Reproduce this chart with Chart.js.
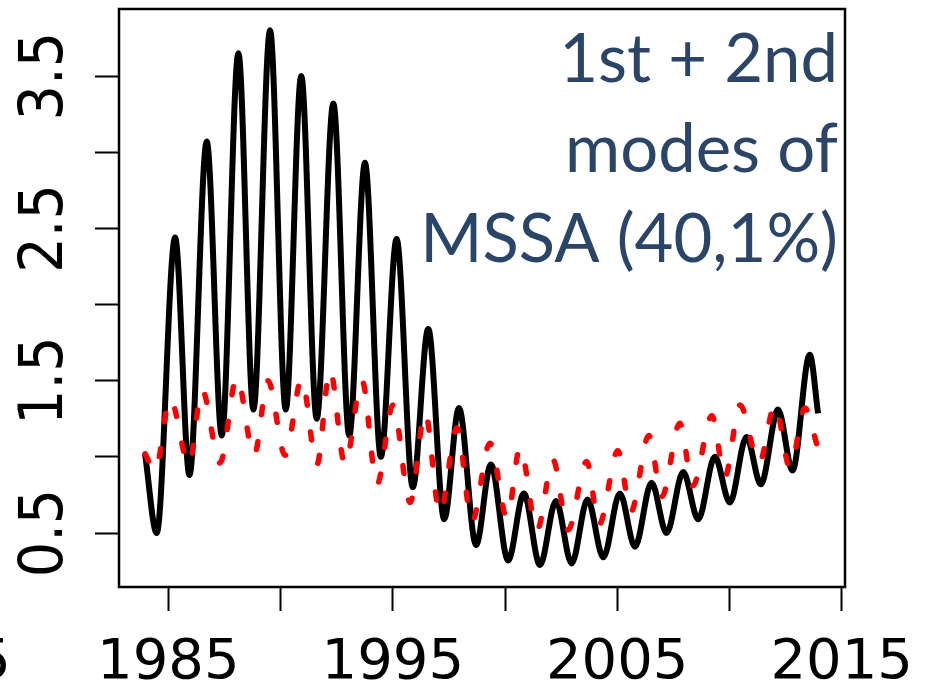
<!DOCTYPE html>
<html>
<head>
<meta charset="utf-8">
<script src="https://cdn.jsdelivr.net/npm/chart.js@4.4.1/dist/chart.umd.min.js"></script>
<style>
  html, body { margin: 0; padding: 0; background: #fff; }
  canvas { display: block; }
</style>
</head>
<body>
<canvas id="chart" width="928" height="683"></canvas>
<script>
// reconstructed signal (1st + 2nd MSSA modes)
const blackYears = [1983.96, 1984.48, 1985.30, 1985.94, 1986.71, 1987.38, 1988.12, 1988.79, 1989.53, 1990.23,
    1990.92, 1991.61, 1992.35, 1993.06, 1993.76, 1994.47, 1995.17, 1995.89, 1996.58, 1997.29,
    1997.95, 1998.71, 1999.37, 2000.14, 2000.84, 2001.56, 2002.27, 2002.97, 2003.68, 2004.38,
    2005.12, 2005.79, 2006.53, 2007.20, 2007.94, 2008.61, 2009.35, 2010.02, 2010.76, 2011.40,
    2012.17, 2012.81, 2013.58, 2013.95];
const blackValues = [1.02, 0.50, 2.44, 0.88, 3.07, 1.14, 3.65, 1.31, 3.80, 1.31,
    3.50, 1.25, 3.32, 1.14, 2.93, 1.00, 2.43, 0.80, 1.84, 0.59,
    1.32, 0.42, 0.95, 0.32, 0.76, 0.29, 0.71, 0.30, 0.72, 0.34,
    0.76, 0.41, 0.83, 0.50, 0.90, 0.59, 1.00, 0.70, 1.13, 0.82,
    1.31, 0.91, 1.67, 1.285];

// observed series (red dotted)
const redYears = [1983.96, 1984.41, 1985.08, 1985.92, 1986.50, 1987.30, 1988.05, 1988.82, 1989.44, 1990.20,
    1990.94, 1991.62, 1992.20, 1992.87, 1993.63, 1994.30, 1995.01, 1995.77, 1996.44, 1997.10,
    1997.86, 1998.53, 1999.33, 2000.09, 2000.67, 2001.43, 2002.14, 2002.81, 2003.64, 2004.19,
    2005.03, 2005.61, 2006.41, 2006.99, 2007.79, 2008.37, 2009.22, 2009.80, 2010.47, 2011.32,
    2012.03, 2012.70, 2013.37, 2013.90];
const redValues = [1.02, 0.91, 1.38, 0.95, 1.44, 0.96, 1.52, 1.01, 1.50, 1.01,
    1.51, 0.95, 1.57, 0.95, 1.50, 0.82, 1.34, 0.70, 1.29, 0.63,
    1.19, 0.575, 1.09, 0.60, 1.06, 0.52, 0.98, 0.52, 0.97, 0.555,
    1.04, 0.64, 1.14, 0.74, 1.22, 0.81, 1.27, 0.87, 1.34, 0.96,
    1.34, 0.93, 1.32, 1.08];

const xTicks = [1985, 1990, 1995, 2000, 2005, 2010, 2015];
const xLabels = ['1985', '', '1995', '', '2005', '', '2015'];
const yTicks = [0.5, 1, 1.5, 2, 2.5, 3, 3.5];
const yLabels = ['0.5', '', '1.5', '', '2.5', '', '3.5'];
const noteLines = ['1st + 2nd', 'modes of', 'MSSA (40,1%)'];

const toPoints = (xs, ys) => xs.map((x, i) => ({ x: x, y: ys[i] }));

// frame, tick labels and the corner note
const decorations = {
    id: 'decorations',
    afterDraw: function(chart) {
        const ctx = chart.ctx;
        const area = chart.chartArea;
        const xs = chart.scales.x;
        const ys = chart.scales.y;

        ctx.save();
        ctx.strokeStyle = '#000';
        ctx.lineWidth = 2.5;
        ctx.strokeRect(area.left, area.top, area.right - area.left, area.bottom - area.top);

        ctx.fillStyle = '#000';
        ctx.font = '56px "DejaVu Sans"';
        ctx.textAlign = 'center';
        ctx.textBaseline = 'alphabetic';
        xTicks.forEach((t, i) => {
            if (xLabels[i]) ctx.fillText(xLabels[i], xs.getPixelForValue(t), area.bottom + 91);
        });
        // tail of the label from the panel on the left
        ctx.textAlign = 'right';
        ctx.fillText('5', 11, area.bottom + 91);

        ctx.font = '60px "DejaVu Sans"';
        yTicks.forEach((t, i) => {
            if (!yLabels[i]) return;
            ctx.save();
            ctx.translate(area.left - 57, ys.getPixelForValue(t));
            ctx.rotate(-Math.PI / 2);
            ctx.scale(0.93, 1);
            ctx.textAlign = 'center';
            ctx.fillText(yLabels[i], 0, 0);
            ctx.restore();
        });

        ctx.fillStyle = '#2a4568';
        ctx.font = '67px Lato';
        ctx.textAlign = 'right';
        noteLines.forEach((line, i) => {
            ctx.fillText(line, area.right - 7, area.top + 73 + i * 90);
        });
        ctx.restore();
    }
};

new Chart(document.getElementById('chart'), {
    type: 'line',
    data: {
        datasets: [{
            label: 'observed',
            data: toPoints(redYears, redValues),
            borderColor: '#ff0000',
            borderWidth: 5.5,
            borderDash: [8, 27],
            borderCapStyle: 'round',
            pointRadius: 0,
            cubicInterpolationMode: 'monotone',
            fill: false
        }, {
            label: 'MSSA 1+2',
            data: toPoints(blackYears, blackValues),
            borderColor: '#000000',
            borderWidth: 6,
            pointRadius: 0,
            cubicInterpolationMode: 'monotone',
            fill: false
        }]
    },
    options: {
        responsive: false,
        animation: false,
        devicePixelRatio: 1,
        layout: {
            padding: { left: 0, right: 83, top: 9, bottom: 0 }
        },
        plugins: {
            legend: { display: false },
            tooltip: { enabled: false }
        },
        scales: {
            x: {
                type: 'linear',
                min: 1982.8,
                max: 2015.15,
                afterBuildTicks: s => { s.ticks = xTicks.map(v => ({ value: v })); },
                afterFit: s => { s.height = 96; },
                ticks: { display: false, autoSkip: false },
                grid: { drawOnChartArea: false, tickLength: 24, tickWidth: 2, tickColor: '#000' },
                border: { display: false }
            },
            y: {
                type: 'linear',
                min: 0.1455,
                max: 3.94,
                afterBuildTicks: s => { s.ticks = yTicks.map(v => ({ value: v })); },
                afterFit: s => { s.width = 119; },
                ticks: { display: false, autoSkip: false },
                grid: { drawOnChartArea: false, tickLength: 24, tickWidth: 2, tickColor: '#000' },
                border: { display: false }
            }
        }
    },
    plugins: [decorations]
});
</script>
</body>
</html>
